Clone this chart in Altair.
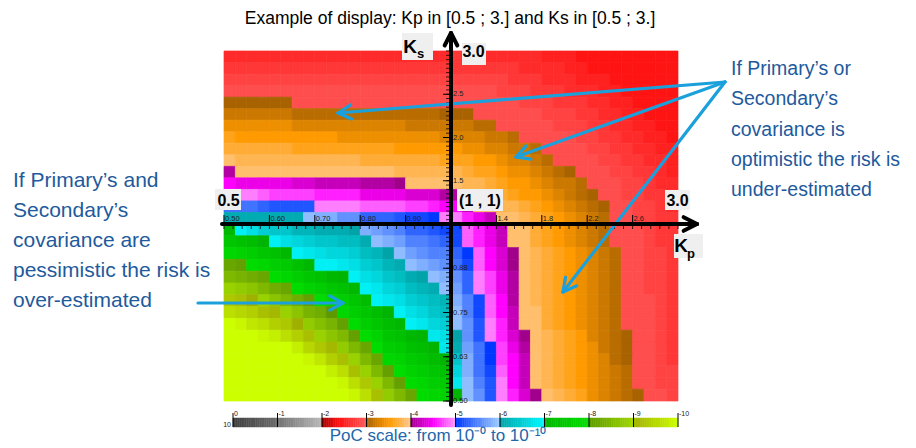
import altair as alt
import numpy as np
import pandas as pd

# ---------------------------------------------------------------------------
# DATA: -log10(PoC) of every cell.
# Each quadrant: rows top -> bottom, columns left -> right.
# ---------------------------------------------------------------------------
# Kp 0.5 -> 1.0 , Ks 3.0 -> 1.0
UL = [
    [2.6, 2.6, 2.6, 2.6, 2.6, 2.6, 2.6, 2.6, 2.6, 2.6, 2.6, 2.6, 2.6, 2.6, 2.6, 2.6, 2.6, 2.6, 2.6, 2.6],
    [2.7, 2.7, 2.7, 2.7, 2.7, 2.7, 2.7, 2.7, 2.7, 2.7, 2.7, 2.7, 2.7, 2.7, 2.7, 2.7, 2.7, 2.7, 2.7, 2.7],
    [2.8, 2.8, 2.8, 2.8, 2.8, 2.8, 2.8, 2.8, 2.8, 2.8, 2.8, 2.8, 2.8, 2.8, 2.8, 2.8, 2.8, 2.8, 2.8, 2.8],
    [2.9, 2.9, 2.9, 2.9, 2.9, 2.9, 2.9, 2.9, 2.9, 2.9, 2.9, 2.9, 2.9, 2.9, 2.9, 2.9, 2.9, 2.9, 2.9, 2.9],
    [3.0, 3.0, 3.0, 3.0, 3.0, 3.0, 2.9, 2.9, 2.9, 2.9, 2.9, 2.9, 2.9, 2.9, 2.9, 2.9, 2.9, 2.9, 2.9, 2.9],
    [3.2, 3.2, 3.2, 3.2, 3.2, 3.2, 3.1, 3.1, 3.1, 3.1, 3.1, 3.1, 3.1, 3.1, 3.1, 3.1, 3.1, 3.1, 3.1, 3.0],
    [3.4, 3.4, 3.4, 3.4, 3.4, 3.4, 3.3, 3.3, 3.3, 3.3, 3.3, 3.3, 3.3, 3.3, 3.3, 3.3, 3.2, 3.2, 3.2, 3.2],
    [3.6, 3.5, 3.5, 3.5, 3.5, 3.5, 3.5, 3.5, 3.5, 3.5, 3.4, 3.4, 3.4, 3.4, 3.4, 3.4, 3.4, 3.4, 3.4, 3.3],
    [3.7, 3.7, 3.7, 3.7, 3.7, 3.7, 3.6, 3.6, 3.6, 3.6, 3.6, 3.6, 3.6, 3.6, 3.6, 3.5, 3.5, 3.5, 3.5, 3.5],
    [3.9, 3.8, 3.8, 3.8, 3.8, 3.8, 3.8, 3.8, 3.8, 3.8, 3.8, 3.8, 3.7, 3.7, 3.7, 3.7, 3.7, 3.7, 3.7, 3.6],
    [4.1, 3.9, 3.9, 3.9, 3.9, 3.9, 3.9, 3.9, 3.9, 3.9, 3.9, 3.9, 3.9, 3.9, 3.9, 3.8, 3.8, 3.8, 3.8, 3.8],
    [4.5, 4.4, 4.4, 4.4, 4.4, 4.4, 4.3, 4.3, 4.2, 4.2, 4.2, 4.2, 4.1, 4.1, 4.1, 4.0, 3.9, 3.9, 3.9, 3.9],
    [4.9, 4.9, 4.9, 4.8, 4.7, 4.7, 4.7, 4.7, 4.6, 4.6, 4.6, 4.6, 4.4, 4.4, 4.4, 4.4, 4.3, 4.3, 4.3, 4.1],
    [5.4, 5.4, 5.4, 5.3, 5.2, 5.2, 5.2, 5.2, 4.9, 4.9, 4.9, 4.9, 4.8, 4.8, 4.8, 4.8, 4.7, 4.7, 4.6, 4.5],
    [6.1, 6.1, 6.1, 6.1, 6.1, 6.1, 6.1, 5.9, 5.8, 5.8, 5.6, 5.6, 5.3, 5.3, 5.3, 5.2, 5.1, 5.1, 5.0, 4.9],
]
# Kp 1.0 -> 3.0 , Ks 3.0 -> 1.0
UR = [
    [2.7, 2.7, 2.7, 2.6, 2.6, 2.6, 2.6, 2.6, 2.5, 2.5, 2.5, 2.4, 2.4, 2.4, 2.4, 2.4, 2.4, 2.4, 2.4, 2.4],
    [2.7, 2.7, 2.7, 2.7, 2.7, 2.7, 2.6, 2.6, 2.6, 2.6, 2.5, 2.5, 2.4, 2.4, 2.4, 2.4, 2.4, 2.4, 2.4, 2.4],
    [2.8, 2.8, 2.8, 2.8, 2.8, 2.7, 2.7, 2.7, 2.6, 2.6, 2.6, 2.5, 2.5, 2.5, 2.4, 2.4, 2.4, 2.4, 2.4, 2.4],
    [2.9, 2.9, 2.9, 2.9, 2.8, 2.8, 2.8, 2.7, 2.7, 2.7, 2.6, 2.6, 2.6, 2.5, 2.5, 2.4, 2.4, 2.4, 2.4, 2.4],
    [2.9, 2.9, 2.9, 2.9, 2.9, 2.9, 2.8, 2.8, 2.8, 2.7, 2.7, 2.7, 2.6, 2.6, 2.5, 2.5, 2.4, 2.4, 2.4, 2.4],
    [3.0, 3.0, 2.9, 2.9, 2.9, 2.9, 2.9, 2.9, 2.8, 2.8, 2.8, 2.7, 2.7, 2.6, 2.6, 2.5, 2.5, 2.4, 2.4, 2.4],
    [3.2, 3.2, 3.1, 3.1, 2.9, 2.9, 2.9, 2.9, 2.9, 2.8, 2.8, 2.8, 2.7, 2.7, 2.6, 2.6, 2.5, 2.5, 2.4, 2.4],
    [3.3, 3.3, 3.3, 3.2, 3.2, 3.1, 2.9, 2.9, 2.9, 2.9, 2.9, 2.8, 2.8, 2.7, 2.7, 2.6, 2.6, 2.5, 2.5, 2.4],
    [3.5, 3.4, 3.4, 3.3, 3.3, 3.2, 3.2, 3.1, 2.9, 2.9, 2.9, 2.9, 2.8, 2.8, 2.7, 2.7, 2.6, 2.6, 2.5, 2.5],
    [3.6, 3.6, 3.5, 3.5, 3.4, 3.3, 3.3, 3.2, 3.1, 2.9, 2.9, 2.9, 2.9, 2.8, 2.8, 2.7, 2.7, 2.6, 2.6, 2.5],
    [3.8, 3.7, 3.6, 3.6, 3.5, 3.4, 3.4, 3.3, 3.2, 3.1, 3.0, 2.9, 2.9, 2.9, 2.8, 2.8, 2.7, 2.7, 2.6, 2.5],
    [3.9, 3.8, 3.8, 3.7, 3.6, 3.5, 3.5, 3.4, 3.3, 3.2, 3.2, 3.1, 2.9, 2.9, 2.9, 2.8, 2.8, 2.7, 2.6, 2.6],
    [4.1, 3.9, 3.9, 3.8, 3.7, 3.6, 3.5, 3.5, 3.4, 3.3, 3.2, 3.1, 3.0, 2.9, 2.9, 2.8, 2.8, 2.7, 2.7, 2.6],
    [4.5, 4.2, 3.9, 3.9, 3.8, 3.8, 3.7, 3.6, 3.5, 3.4, 3.3, 3.2, 3.1, 3.0, 2.9, 2.9, 2.8, 2.8, 2.7, 2.6],
    [4.9, 4.6, 4.4, 4.2, 3.9, 3.9, 3.8, 3.7, 3.6, 3.5, 3.4, 3.3, 3.2, 3.1, 2.9, 2.9, 2.8, 2.8, 2.7, 2.7],
]
# Kp 0.5 -> 1.0 , Ks 1.0 -> 0.5
LL = [
    [7.1, 6.9, 6.7, 6.5, 6.4, 6.4, 6.2, 6.2, 6.1, 6.1, 6.1, 6.0, 5.8, 5.7, 5.6, 5.5, 5.3, 5.3, 5.2, 5.1],
    [7.4, 7.3, 7.2, 7.0, 6.9, 6.7, 6.6, 6.5, 6.4, 6.4, 6.3, 6.3, 6.1, 5.9, 5.8, 5.7, 5.5, 5.5, 5.4, 5.3],
    [7.8, 7.7, 7.6, 7.4, 7.3, 7.1, 6.9, 6.8, 6.7, 6.6, 6.6, 6.5, 6.3, 6.2, 6.0, 5.9, 5.7, 5.6, 5.5, 5.5],
    [8.2, 8.1, 7.9, 7.8, 7.6, 7.5, 7.3, 7.1, 6.9, 6.9, 6.8, 6.7, 6.5, 6.4, 6.2, 6.1, 5.9, 5.8, 5.7, 5.6],
    [8.5, 8.4, 8.3, 8.2, 7.9, 7.8, 7.6, 7.4, 7.3, 7.1, 7.0, 6.9, 6.7, 6.6, 6.4, 6.3, 6.1, 6.0, 5.9, 5.8],
    [8.9, 8.8, 8.7, 8.5, 8.3, 8.2, 7.9, 7.7, 7.6, 7.4, 7.3, 7.1, 6.9, 6.8, 6.6, 6.5, 6.3, 6.2, 6.1, 5.9],
    [9.3, 9.2, 9.0, 8.9, 8.7, 8.5, 8.3, 8.1, 7.9, 7.7, 7.6, 7.4, 7.2, 6.9, 6.8, 6.7, 6.5, 6.4, 6.3, 6.2],
    [9.6, 9.5, 9.4, 9.2, 9.1, 8.9, 8.7, 8.4, 8.3, 8.0, 7.8, 7.6, 7.4, 7.2, 7.0, 6.9, 6.7, 6.6, 6.4, 6.3],
    [10.0, 9.9, 9.7, 9.6, 9.4, 9.3, 9.0, 8.8, 8.6, 8.4, 8.1, 7.9, 7.6, 7.4, 7.2, 7.1, 6.9, 6.8, 6.6, 6.5],
    [10.0, 10.0, 10.0, 9.9, 9.8, 9.6, 9.4, 9.2, 8.9, 8.7, 8.5, 8.1, 7.9, 7.7, 7.4, 7.3, 7.1, 7.0, 6.8, 6.7],
    [10.0, 10.0, 10.0, 10.0, 10.0, 10.0, 9.8, 9.5, 9.3, 9.1, 8.8, 8.5, 8.2, 7.9, 7.6, 7.5, 7.3, 7.2, 7.0, 6.8],
    [10.0, 10.0, 10.0, 10.0, 10.0, 10.0, 10.0, 9.9, 9.7, 9.4, 9.2, 8.9, 8.5, 8.2, 7.8, 7.7, 7.5, 7.4, 7.2, 7.0],
    [10.0, 10.0, 10.0, 10.0, 10.0, 10.0, 10.0, 10.0, 10.0, 9.8, 9.6, 9.2, 8.9, 8.5, 8.1, 7.9, 7.7, 7.6, 7.4, 7.3],
    [10.0, 10.0, 10.0, 10.0, 10.0, 10.0, 10.0, 10.0, 10.0, 10.0, 9.9, 9.6, 9.3, 8.9, 8.5, 8.1, 7.9, 7.8, 7.6, 7.5],
    [10.0, 10.0, 10.0, 10.0, 10.0, 10.0, 10.0, 10.0, 10.0, 10.0, 10.0, 9.9, 9.6, 9.2, 8.8, 8.5, 8.2, 7.9, 7.8, 7.7],
]
# Kp 1.0 -> 3.0 , Ks 1.0 -> 0.5
LR = [
    [5.1, 4.8, 4.6, 4.4, 4.2, 3.9, 3.9, 3.7, 3.6, 3.5, 3.4, 3.3, 3.2, 3.1, 2.9, 2.9, 2.9, 2.8, 2.7, 2.7],
    [5.1, 4.8, 4.6, 4.4, 4.2, 3.9, 3.9, 3.7, 3.6, 3.5, 3.4, 3.3, 3.2, 3.1, 2.9, 2.9, 2.9, 2.8, 2.7, 2.7],
    [5.3, 5.0, 4.8, 4.5, 4.3, 4.0, 3.9, 3.8, 3.7, 3.6, 3.5, 3.4, 3.3, 3.2, 3.1, 2.9, 2.9, 2.8, 2.8, 2.7],
    [5.4, 5.1, 4.8, 4.5, 4.3, 4.0, 3.9, 3.8, 3.7, 3.6, 3.5, 3.4, 3.3, 3.2, 3.1, 2.9, 2.9, 2.8, 2.8, 2.7],
    [5.6, 5.3, 4.9, 4.7, 4.4, 4.1, 3.9, 3.8, 3.7, 3.6, 3.5, 3.4, 3.3, 3.2, 3.1, 2.9, 2.9, 2.8, 2.8, 2.7],
    [5.7, 5.3, 4.9, 4.7, 4.4, 4.1, 3.9, 3.8, 3.7, 3.6, 3.5, 3.4, 3.3, 3.2, 3.1, 2.9, 2.9, 2.8, 2.8, 2.7],
    [5.8, 5.5, 5.1, 4.8, 4.5, 4.1, 3.9, 3.8, 3.7, 3.6, 3.5, 3.4, 3.3, 3.2, 3.1, 2.9, 2.9, 2.9, 2.8, 2.7],
    [5.9, 5.5, 5.1, 4.8, 4.5, 4.2, 3.9, 3.9, 3.7, 3.6, 3.5, 3.4, 3.3, 3.2, 3.1, 2.9, 2.9, 2.9, 2.8, 2.7],
    [5.9, 5.6, 5.2, 4.9, 4.6, 4.2, 3.9, 3.9, 3.7, 3.6, 3.5, 3.4, 3.3, 3.2, 3.1, 2.9, 2.9, 2.9, 2.8, 2.7],
    [6.0, 5.6, 5.2, 4.9, 4.6, 4.3, 4.0, 3.9, 3.8, 3.7, 3.6, 3.5, 3.3, 3.2, 3.1, 3.0, 2.9, 2.9, 2.8, 2.7],
    [6.1, 5.7, 5.4, 5.0, 4.7, 4.4, 4.1, 3.9, 3.8, 3.7, 3.6, 3.5, 3.4, 3.2, 3.1, 3.0, 2.9, 2.9, 2.8, 2.7],
    [6.4, 5.8, 5.4, 5.0, 4.7, 4.5, 4.2, 3.9, 3.8, 3.7, 3.6, 3.5, 3.4, 3.3, 3.1, 3.0, 2.9, 2.9, 2.8, 2.7],
    [6.6, 5.8, 5.4, 5.1, 4.8, 4.5, 4.2, 3.9, 3.8, 3.7, 3.6, 3.5, 3.4, 3.3, 3.2, 3.1, 2.9, 2.9, 2.8, 2.8],
    [6.8, 5.9, 5.5, 5.2, 4.9, 4.5, 4.2, 3.9, 3.8, 3.7, 3.6, 3.5, 3.4, 3.3, 3.2, 3.1, 2.9, 2.9, 2.8, 2.8],
    [7.0, 5.9, 5.6, 5.2, 4.9, 4.6, 4.3, 4.0, 3.9, 3.8, 3.7, 3.6, 3.4, 3.3, 3.2, 3.1, 3.0, 2.9, 2.9, 2.8],
]

KP_TICKS = [0.5, 0.6, 0.7, 0.8, 0.9, 1.4, 1.8, 2.2, 2.6]
KP_TICK_LABELS = ["0.50", "0.60", "0.70", "0.80", "0.90", "1.4", "1.8", "2.2", "2.6"]
KS_TICKS = [2.5, 2.0, 1.5, 0.875, 0.75, 0.625, 0.5]
KS_TICK_LABELS = ["2.5", "2.0", "1.5", "0.88", "0.75", "0.63", "0.50"]
POC_DECADES = [0, 1, 2, 3, 4, 5, 6, 7, 8, 9, 10]
POC_DECADE_LABELS = ["0", "-1", "-2", "-3", "-4", "-5", "-6", "-7", "-8", "-9", "-10"]

TITLE = "Example of display: Kp in [0.5 ; 3.] and Ks in [0.5 ; 3.]"
LEFT_NOTE = ["If Primary\u2019s and", "Secondary\u2019s", "covariance are",
             "pessimistic the risk is", "over-estimated"]
RIGHT_NOTE = ["If Primary\u2019s or", "Secondary\u2019s", "covariance is",
              "optimistic the risk is", "under-estimated"]
CAPTION = "PoC scale: from 10\u207b\u2070 to 10\u207b\u00b9\u2070"

# PoC colour scale (value = -log10 PoC)
S_STOPS = [0, 0.999, 1, 1.999, 2, 2.4, 2.999, 3, 3.5, 3.999, 4, 4.5, 4.999,
           5, 5.999, 6, 6.999, 7, 7.999, 8, 8.999, 9, 10]
S_COLORS = ["#404040", "#6c6c6c", "#727272", "#b8b8b8",
            "#a80000", "#ff1414", "#ff5a5a",
            "#a86200", "#ff9a00", "#ffc888",
            "#a0008c", "#ff00ff", "#ff9cff",
            "#0038ff", "#a0ccff",
            "#00a4a8", "#00f8ff",
            "#00b400", "#00e000",
            "#5c9a00", "#a0d800",
            "#a0b000", "#ccff00"]

# ---------------------------------------------------------------------------
FONT = "Liberation Sans"
BLUE_TXT = "#1e5a9c"
ARROW_BLUE = "#1ca0dc"


def quadrant(grid, kp_lo, kp_hi, ks_hi, ks_lo):
    kp = np.linspace(kp_lo, kp_hi, len(grid[0]) + 1)
    ks = np.linspace(ks_hi, ks_lo, len(grid) + 1)
    out = []
    for r, line in enumerate(grid):
        for c, v in enumerate(line):
            out.append({"kp0": kp[c], "kp1": kp[c + 1],
                        "ks0": ks[r + 1], "ks1": ks[r], "s": v})
    return out


heat_df = pd.DataFrame(quadrant(UL, 0.5, 1.0, 3.0, 1.0) + quadrant(UR, 1.0, 3.0, 3.0, 1.0)
                       + quadrant(LL, 0.5, 1.0, 1.0, 0.5) + quadrant(LR, 1.0, 3.0, 1.0, 0.5))

XS = alt.Scale(domain=[0.5, 1.0, 3.0], range=[216, 443, 670], nice=False, zero=False)
YS = alt.Scale(domain=[0.5, 1.0, 3.0], range=[393, 216, 43], nice=False, zero=False)


def cscale():
    return alt.Scale(domain=S_STOPS, range=S_COLORS, interpolate="rgb")


heat = alt.Chart(heat_df).mark_rect(strokeWidth=0.7).encode(
    x=alt.X("kp0:Q", scale=XS, axis=None), x2="kp1:Q",
    y=alt.Y("ks0:Q", scale=YS, axis=None), y2="ks1:Q",
    color=alt.Color("s:Q", scale=cscale(), legend=None),
    stroke=alt.Stroke("s:Q", scale=cscale(), legend=None),
)

kp_df = pd.DataFrame({"kp": KP_TICKS, "label": KP_TICK_LABELS})
ks_df = pd.DataFrame({"ks": KS_TICKS, "label": KS_TICK_LABELS})
kp_minor = pd.DataFrame({"kp": list(np.arange(0.5, 1.0, 0.02)) + list(np.arange(1.0, 3.0001, 0.08))})
ks_minor = pd.DataFrame({"ks": list(np.arange(0.5, 1.0, 0.0125)) + list(np.arange(1.0, 3.0001, 0.05))})

kp_major_r = alt.Chart(kp_df).mark_rule(color="black", strokeWidth=1).encode(
    x=alt.X("kp:Q", scale=XS, axis=None), y=alt.value(207), y2=alt.value(216))
kp_minor_r = alt.Chart(kp_minor).mark_rule(color="black", strokeWidth=0.8).encode(
    x=alt.X("kp:Q", scale=XS, axis=None), y=alt.value(216), y2=alt.value(221))
kp_lab = alt.Chart(kp_df).mark_text(align="left", baseline="alphabetic", fontSize=7.5, dx=1,
                                    font=FONT, color="#222").encode(
    x=alt.X("kp:Q", scale=XS, axis=None), y=alt.value(213), text="label:N")
ks_major_r = alt.Chart(ks_df).mark_rule(color="black", strokeWidth=1).encode(
    y=alt.Y("ks:Q", scale=YS, axis=None), x=alt.value(435), x2=alt.value(443))
ks_minor_r = alt.Chart(ks_minor).mark_rule(color="black", strokeWidth=0.8).encode(
    y=alt.Y("ks:Q", scale=YS, axis=None), x=alt.value(438), x2=alt.value(443))
ks_lab = alt.Chart(ks_df).mark_text(align="left", baseline="middle", fontSize=7.5,
                                    font=FONT, color="#222").encode(
    y=alt.Y("ks:Q", scale=YS, axis=None), x=alt.value(445), text="label:N")

main = alt.layer(heat, kp_minor_r, ks_minor_r, kp_major_r, ks_major_r, kp_lab, ks_lab)

# colour bar
cb_df = pd.DataFrame({"c0": np.round(np.arange(0, 10, 0.05), 3)})
cb_df["c1"] = cb_df["c0"] + 0.05
cb_df["s"] = cb_df["c0"] + 0.025
CBX = alt.Scale(domain=[0, 10], range=[225, 670], nice=False, zero=False)
cb_rect = alt.Chart(cb_df).mark_rect(strokeWidth=0.5).encode(
    x=alt.X("c0:Q", scale=CBX, axis=None), x2="c1:Q",
    y=alt.value(410), y2=alt.value(419),
    color=alt.Color("s:Q", scale=cscale(), legend=None),
    stroke=alt.Stroke("s:Q", scale=cscale(), legend=None))
cbt_df = pd.DataFrame({"d": POC_DECADES, "label": POC_DECADE_LABELS})
cb_ticks = alt.Chart(cbt_df).mark_rule(color="black", strokeWidth=1).encode(
    x=alt.X("d:Q", scale=CBX, axis=None), y=alt.value(405), y2=alt.value(419))
cb_lab = alt.Chart(cbt_df).mark_text(align="left", baseline="alphabetic", fontSize=7, dx=1,
                                     font=FONT, color="#222").encode(
    x=alt.X("d:Q", scale=CBX, axis=None), y=alt.value(408), text="label:N")
cbar = alt.layer(cb_rect, cb_ticks, cb_lab)


# overlay (pixel positioned decorations)
def arrow(x0, y0, x1, y1, length, ang_deg):
    d = np.array([x1 - x0, y1 - y0], dtype=float)
    d /= np.hypot(*d)
    segs = [(x0, y0, x1, y1)]
    for a in (np.radians(ang_deg), -np.radians(ang_deg)):
        c, s = np.cos(a), np.sin(a)
        w = (d[0] * c - d[1] * s, d[0] * s + d[1] * c)
        segs.append((x1, y1, x1 - length * w[0], y1 - length * w[1]))
    return segs


def seg_chart(segs, color, width):
    df = pd.DataFrame(segs, columns=["x", "y", "x2", "y2"])
    return alt.Chart(df).mark_rule(color=color, strokeWidth=width, strokeCap="round").encode(
        x=alt.X("x:Q", scale=None), y=alt.Y("y:Q", scale=None), x2="x2:Q", y2="y2:Q")


def text_chart(items, **mk):
    df = pd.DataFrame(items, columns=["x", "y", "t"])
    return alt.Chart(df).mark_text(**mk).encode(
        x=alt.X("x:Q", scale=None), y=alt.Y("y:Q", scale=None), text="t:N")


blue_segs = (arrow(717, 74, 330, 105, 15, 28) + arrow(717, 74, 508, 149, 15, 28)
             + arrow(717, 74, 555, 284, 15, 28) + arrow(190, 295, 335, 295, 15, 28))
axis_segs = (arrow(214, 216, 689, 216, 15, 27) + arrow(443, 397, 443, 25, 14, 27))

boxes = pd.DataFrame([(394, 25, 425, 52), (454, 35, 478, 57), (207, 181, 233, 202),
                      (449, 181, 495, 203), (657, 182, 682, 202), (666, 226, 695, 250)],
                     columns=["x", "y", "x2", "y2"])
box_chart = alt.Chart(boxes).mark_rect(color="#efefef").encode(
    x=alt.X("x:Q", scale=None), y=alt.Y("y:Q", scale=None), x2="x2:Q", y2="y2:Q")

bold16 = text_chart([(465.5, 44, "3.0"), (220.5, 193, "0.5"), (472, 193, "(1 , 1)"),
                     (669.5, 193, "3.0")],
                    align="center", baseline="middle", fontSize=16, fontWeight="bold",
                    font=FONT, color="black")
bigK = text_chart([(402, 38.5, "K"), (673, 238, "K")], align="center", baseline="middle",
                  fontSize=19, fontWeight="bold", font=FONT, color="black")
subs = text_chart([(412.5, 46, "s"), (683, 246, "p")], align="center", baseline="middle",
                  fontSize=13, fontWeight="bold", font=FONT, color="black")

left_note = text_chart([(5, 179 + 30 * k, t) for k, t in enumerate(LEFT_NOTE)],
                       align="left", baseline="alphabetic", fontSize=21, font=FONT, color=BLUE_TXT)
right_note = text_chart([(723, 67 + 30.3 * k, t) for k, t in enumerate(RIGHT_NOTE)],
                        align="left", baseline="alphabetic", fontSize=19.5, font=FONT, color=BLUE_TXT)
title = text_chart([(442, 16, TITLE)], align="center", baseline="alphabetic", fontSize=17.5,
                   font=FONT, color="black")
caption = text_chart([(430, 433, CAPTION)], align="center", baseline="alphabetic", fontSize=17,
                     font=FONT, color="#2167aa")
cb_ten = text_chart([(223, 419, "10")], align="right", baseline="alphabetic", fontSize=7,
                    font=FONT, color="#222")

overlay = alt.layer(seg_chart(blue_segs, ARROW_BLUE, 3.2), seg_chart(axis_segs, "black", 4),
                    box_chart, bold16, bigK, subs, left_note, right_note, title, caption, cb_ten)

chart = alt.layer(main, cbar, overlay).resolve_scale(
    x="independent", y="independent"
).properties(
    width=900, height=440, padding=0, background="white",
    autosize=alt.AutoSizeParams(type="none"),
).configure_view(stroke=None)

chart.save("out.html", embed_options={"renderer": "svg", "actions": False})
